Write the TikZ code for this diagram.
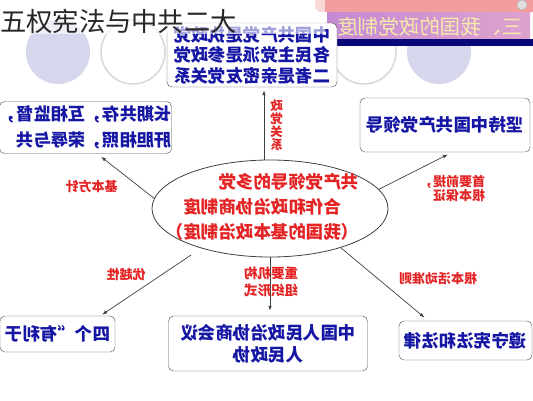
\documentclass[tikz,border=0pt]{standalone}
\usepackage{fontspec}
\newfontfamily\cjk{Noto Sans CJK SC}
\usetikzlibrary{arrows.meta,shapes.geometric}

\definecolor{boxblue}{RGB}{22,22,165}
\definecolor{labelred}{RGB}{228,36,36}
\definecolor{lavender}{RGB}{214,214,236}
\definecolor{ringgray}{RGB}{215,215,215}
\definecolor{bannerpink}{RGB}{242,158,158}
\definecolor{bannerleft}{RGB}{196,138,212}
\definecolor{bannerright}{RGB}{222,162,206}
\definecolor{bannernavy}{RGB}{8,8,120}
\definecolor{bannertext}{RGB}{246,234,170}

\begin{document}
\begin{tikzpicture}[x=1pt,y=-1pt,
    box node/.style={draw=black!70,rounded corners=5pt,fill=white,text=boxblue,
        font=\cjk\bfseries\fontsize{17.5}{22}\selectfont,xscale=-1,inner sep=0pt},
    label node/.style={text=labelred,font=\cjk\bfseries\fontsize{13}{14}\selectfont,
        xscale=-1,inner sep=0pt},
    conn/.style={-{Latex[length=5pt,width=3.5pt]},draw=black!75,line width=0.7pt}]

    \useasboundingbox (0,0) rectangle (533,400);

    % Background circles
    \fill[lavender] (58,52) circle (32);
    \fill[lavender] (439,52) circle (32);
    \draw[ringgray,line width=1.5pt] (133,52) circle (32);
    \draw[ringgray,line width=1.5pt] (364,52) circle (32);

    % Banner
    \fill[bannerpink,rounded corners=6pt] (315,-10) rectangle (545,12);
    \draw[gray!60,fill=gray!25] (522,5) circle (5);
    \shade[left color=bannerleft,right color=bannerright] (327,12) rectangle (530,39);
    \fill[bannernavy] (327,39) rectangle (533,46);
    \node[text=bannertext,font=\cjk\fontsize{20.5}{22}\selectfont,xscale=-1] (banner) at (430,27) {三、我国的政党制度};

    % Central ellipse
    \node[draw=black!75,ellipse,minimum width=236pt,minimum height=97pt,line width=0.8pt] (sys) at (270,208.5) {};
    \node[text=labelred,font=\cjk\bfseries\fontsize{17.5}{25}\selectfont,xscale=-1,
        inner sep=0pt,align=left,anchor=west] (sys text) at (359,207)
        {共产党领导的多党\\\hspace*{1em}合作和政治协商制度\\（我国的基本政治制度）};

    % Boxes
    \node[box node,minimum width=170pt,minimum height=64pt,align=left,
        font=\cjk\bfseries\fontsize{17.4}{20.5}\selectfont] (top) at (252,55)
        {中国共产党是执政党\\各民主党派是参政党\\二者是亲密友党关系};
    \node[box node,minimum width=169pt,minimum height=52pt,align=left,
        font=\cjk\bfseries\fontsize{17.2}{26}\selectfont] (left) at (85.5,127.5)
        {长期共存，互相监督，\\肝胆相照，荣辱与共};
    \node[box node,minimum width=170pt,minimum height=54pt] (right) at (445,125) {坚持中国共产党领导};
    \node[box node,minimum width=115pt,minimum height=36pt] (bl) at (57.5,334) {四个“有利于};
    \node[box node,minimum width=199pt,minimum height=55pt,align=center] (mid) at (268,343.5)
        {中国人民政治协商会议\\人民政协};
    \node[box node,minimum width=133pt,minimum height=39pt] (br) at (465.5,340.5) {遵守宪法和法律};

    % Connectors
    \draw[conn,shorten >=3pt] (sys.97) -- (sys.97 |- top.south);
    \draw[conn,shorten >=5pt] (sys.175) -- (left.246);
    \draw[conn,shorten >=5pt] (sys.10) -- (right.255);
    \draw[conn,shorten <=12pt,shorten >=2pt] (sys.210) -- (bl.157);
    \draw[conn,shorten >=5pt] (sys.south) -- (sys.south |- mid.north);
    \draw[conn,shorten >=5pt] (sys.-29) -- (br.28);

    % Connector labels
    \node[label node,align=center,font=\cjk\bfseries\fontsize{12.5}{13}\selectfont] (l1) at (276.5,125) {政\\党\\关\\系};
    \node[label node] (l2) at (91.5,186) {基本方针};
    \node[label node,align=left] (l3) at (452.5,189) {首要前提，\\根本保证};
    \node[label node] (l4) at (126,275) {优越性};
    \node[label node,align=center,font=\cjk\bfseries\fontsize{13.5}{17}\selectfont] (l5) at (271,282) {重要机构\\组织形式};
    \node[label node] (l6) at (438,279) {根本活动准则};

    % Title overlay
    \fill[white,opacity=0.6] (0,0) rectangle (325,34);
    \node[anchor=west,inner sep=0pt,text=black!85,font=\cjk\fontsize{26.3}{27}\selectfont] (title) at (0,21) {五权宪法与中共二大};
\end{tikzpicture}
\end{document}
